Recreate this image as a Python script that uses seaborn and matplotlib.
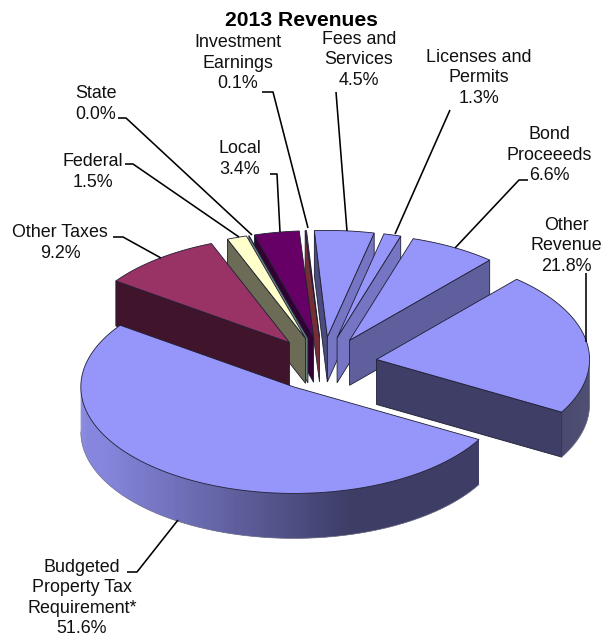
import numpy as np
import matplotlib
matplotlib.use("Agg")
import matplotlib.pyplot as plt
import seaborn as sns

# ---- data (clockwise from the top of the pie) ----
categories = ["Fees and\nServices", "Licenses and\nPermits", "Bond\nProceeeds", "Other\nRevenue",
              "Budgeted\nProperty Tax\nRequirement*", "Other Taxes", "Federal", "State", "Local",
              "Investment\nEarnings"]
values = [4.5, 1.3, 6.6, 21.8, 51.6, 9.2, 1.5, 0.0, 3.4, 0.1]
title = "2013 Revenues"

# ---- style and layout ----
face_colors = ["#9696FA", "#9696FA", "#9696FA", "#9696FA", "#9696FA",
               "#993366", "#FFFFCC", "#CCFFFF", "#660066", "#8A3540"]
start_shade = [0.50, 0.50, 0.50, 0.50, 0.50, 0.42, 0.42, 0.50, 0.50, 0.85]
end_shade = [0.78, 0.78, 0.63, 0.41, 0.41, 0.41, 0.41, 0.41, 0.41, 0.41]
draw_order = [9, 8, 7, 6, 5, 0, 1, 2, 3, 4]
label_pos = [(359, 60), (479, 78), (549, 155), (566, 246), (82, 598), (60, 243), (93, 172), (96, 104),
             (240, 159), (238, 63)]
leaders = [[(336, 92), (347, 231)],
           [(450, 110), (395, 234)],
           [(528, 180), (519, 180), (455, 248)],
           [(586, 273), (586, 342)],
           [(127, 572), (137, 572), (178, 520)],
           [(113, 237), (123, 237), (161, 258)],
           [(125, 164), (133, 164), (239, 237)],
           [(118, 118), (126, 118), (252, 235)],
           [(270, 174), (277, 174), (280, 232)],
           [(262, 92), (273, 92), (308, 228)]]
CX, CY, RX, RY = 323.0, 364.0, 213.0, 106.5
EXPLODE, DEPTH, START_DEG = 0.255, 45.0, -3.5
FONT = "Liberation Sans"

sns.set_style("white")
plt.rcParams["font.family"] = [FONT, "DejaVu Sans"]

fig = plt.figure(figsize=(6.04, 6.37), dpi=100, facecolor="white")
ax = fig.add_axes([0, 0, 1, 1])
ax.set_xlim(0, 604)
ax.set_ylim(637, 0)
ax.axis("off")

wall_ramp = sns.blend_palette(["#8686DE", "#3D3D66"], 101)
edge_dark = "#1E1E33"


def scaled(color, k):
    rgb = np.array(matplotlib.colors.to_rgb(color)) * k
    return tuple(np.clip(rgb, 0, 1))


def rim(apex, th):
    return np.column_stack([apex[0] + RX * np.sin(th), apex[1] - RY * np.cos(th)])


angles = np.deg2rad(START_DEG + np.concatenate([[0], np.cumsum(values)]) * 3.6)

for idx in draw_order:
    a0, a1 = angles[idx], angles[idx + 1]
    mid = (a0 + a1) / 2
    apex = (CX + EXPLODE * RX * np.sin(mid), CY - EXPLODE * RY * np.cos(mid))
    col = face_colors[idx]
    drop = np.array([0, DEPTH])
    layer = 1 + draw_order.index(idx)

    # flat cut faces that turn toward the viewer
    if np.sin(a0) < 0:
        p = rim(apex, np.array([a0]))[0]
        ax.fill(*zip(apex, p, p + drop, np.array(apex) + drop), color=scaled(col, start_shade[idx]),
                ec=edge_dark, lw=0.6, zorder=layer)
    if np.sin(a1) > 0:
        p = rim(apex, np.array([a1]))[0]
        ax.fill(*zip(apex, p, p + drop, np.array(apex) + drop), color=scaled(col, end_shade[idx]),
                ec=edge_dark, lw=0.6, zorder=layer)

    # curved outer wall on the front half of the rim, each strip overlapping the next
    lo, hi = max(a0, np.pi / 2), min(a1, 3 * np.pi / 2)
    if hi > lo:
        edges = np.linspace(hi, lo, 220)
        for t0, t1 in zip(edges[:-2], edges[2:]):
            q = rim(apex, np.array([t0, t1]))
            u = np.sin((t0 + t1) / 2)
            t = int(np.clip((u + 0.9) / 1.17, 0, 1) * 100)
            shade = wall_ramp[t]
            ax.fill(*zip(q[0], q[1], q[1] + drop, q[0] + drop), color=shade, lw=0, zorder=layer)
        arc = rim(apex, edges)
        ax.plot(arc[:, 0], arc[:, 1] + DEPTH, color="#77778F", lw=0.5, zorder=layer)

    # top face
    th = np.linspace(a0, a1, max(2, int((a1 - a0) * 60)))
    poly = np.vstack([[apex], rim(apex, th)])
    ax.fill(poly[:, 0], poly[:, 1], color=col, ec=edge_dark, lw=0.6, zorder=layer + 0.5)

# labels and leader lines
for name, val, pos, line in zip(categories, values, label_pos, leaders):
    ax.text(pos[0], pos[1], f"{name}\n{val:.1f}%", ha="center", va="center", fontsize=12.9,
            color="#111111", linespacing=1.24, zorder=30)
    xs, ys = zip(*line)
    ax.plot(xs, ys, color="black", lw=1.15, zorder=25, solid_capstyle="butt")

ax.text(301, 20.5, title, ha="center", va="center", fontsize=15.2, fontweight="bold", color="black", zorder=30)

fig.savefig("out.png", dpi=100, facecolor="white")
